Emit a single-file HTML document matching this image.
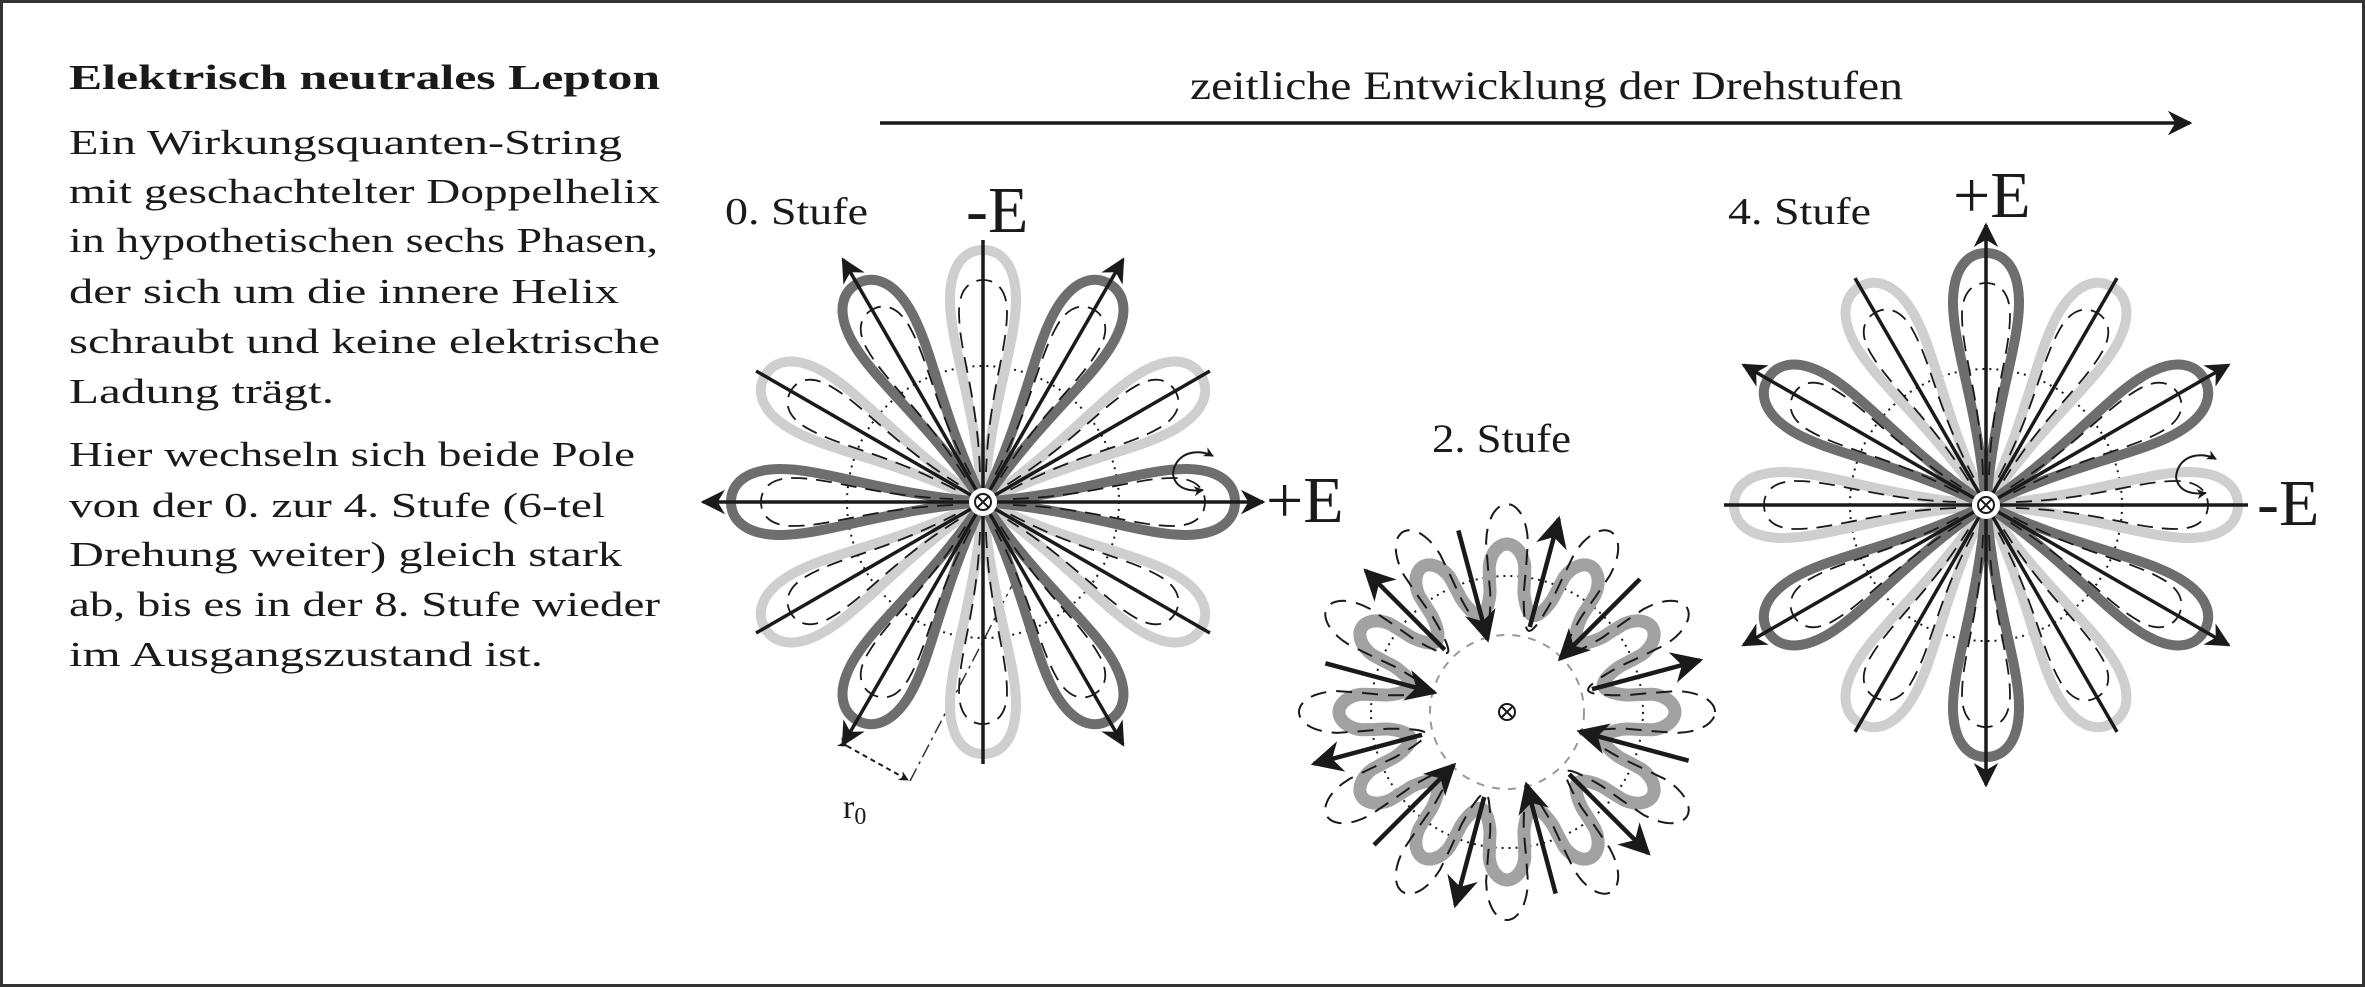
<!DOCTYPE html>
<html><head><meta charset="utf-8"><style>
html,body{margin:0;padding:0;background:#fff;}
svg{display:block;}
text{font-family:"Liberation Serif","DejaVu Serif",serif;fill:#1a1a1a;}
</style></head><body>
<svg id="fig" width="2365" height="987" viewBox="0 0 2365 987" xmlns="http://www.w3.org/2000/svg">
<defs>
<marker id="ah" viewBox="0 0 10 10" refX="9" refY="5" markerWidth="7" markerHeight="7" markerUnits="strokeWidth" orient="auto"><path d="M0,0 L10,5 L0,10 L3,5 Z" fill="#1a1a1a"/></marker>
<marker id="ahs" viewBox="0 0 10 10" refX="9" refY="5" markerWidth="5" markerHeight="5" markerUnits="strokeWidth" orient="auto"><path d="M0,0 L10,5 L0,10 L3,5 Z" fill="#1a1a1a"/></marker>
</defs>
<rect x="1.5" y="1.5" width="2362" height="984" fill="#fff" stroke="#333" stroke-width="3"/>

<g>
<text x="69" y="89" font-size="35" font-weight="bold" textLength="591" lengthAdjust="spacingAndGlyphs">Elektrisch neutrales Lepton</text>
<g font-size="35">
<text x="69" y="154" textLength="553" lengthAdjust="spacingAndGlyphs">Ein Wirkungsquanten-String</text>
<text x="69" y="203" textLength="591" lengthAdjust="spacingAndGlyphs">mit geschachtelter Doppelhelix</text>
<text x="69" y="252" textLength="589" lengthAdjust="spacingAndGlyphs">in hypothetischen sechs Phasen,</text>
<text x="69" y="303" textLength="550" lengthAdjust="spacingAndGlyphs">der sich um die innere Helix</text>
<text x="69" y="353" textLength="591" lengthAdjust="spacingAndGlyphs">schraubt und keine elektrische</text>
<text x="69" y="403" textLength="265" lengthAdjust="spacingAndGlyphs">Ladung trägt.</text>
<text x="69" y="466" textLength="566" lengthAdjust="spacingAndGlyphs">Hier wechseln sich beide Pole</text>
<text x="69" y="517" textLength="536" lengthAdjust="spacingAndGlyphs">von der 0. zur 4. Stufe (6-tel</text>
<text x="69" y="566" textLength="553" lengthAdjust="spacingAndGlyphs">Drehung weiter) gleich stark</text>
<text x="69" y="616" textLength="591" lengthAdjust="spacingAndGlyphs">ab, bis es in der 8. Stufe wieder</text>
<text x="69" y="666" textLength="474" lengthAdjust="spacingAndGlyphs">im Ausgangszustand ist.</text>
</g></g>

<text x="1190" y="99" font-size="40" textLength="713" lengthAdjust="spacingAndGlyphs">zeitliche Entwicklung der Drehstufen</text>
<line x1="880" y1="123" x2="2190" y2="123" stroke="#1a1a1a" stroke-width="3.5" marker-end="url(#ah)"/>

<text x="725" y="224" font-size="38" textLength="143" lengthAdjust="spacingAndGlyphs">0. Stufe</text>
<text x="966" y="232" font-size="66">-E</text>
<text x="1266" y="522" font-size="66">+E</text>
<text x="843" y="818" font-size="34">r<tspan font-size="24" dy="6">0</tspan></text>
<line x1="847" y1="746" x2="908" y2="780" stroke="#1a1a1a" stroke-width="2" stroke-dasharray="5 4" marker-start="url(#ahs)" marker-end="url(#ahs)"/>
<line x1="910" y1="781" x2="1018" y2="574" stroke="#333" stroke-width="1.5" stroke-dasharray="14 5 3 5"/>

<text x="1432" y="452" font-size="40" textLength="139" lengthAdjust="spacingAndGlyphs">2. Stufe</text>

<text x="1728" y="224" font-size="38" textLength="143" lengthAdjust="spacingAndGlyphs">4. Stufe</text>
<text x="1953" y="217" font-size="66">+E</text>
<text x="2257" y="525" font-size="66">-E</text>

<g id="layer"></g>
</svg>
<script>
// petal angles (degrees, counter-clockwise from +x)
const stage0Dark = [0, 60, 120, 180, 240, 300];
const stage0Light = [30, 90, 150, 210, 270, 330];
const stage4Dark = [30, 90, 150, 210, 270, 330];
const stage4Light = [0, 60, 120, 180, 240, 300];
const stage2OutArrows = [15, 75, 135, 195, 255, 315];
const stage2InArrows = [45, 105, 165, 225, 285, 345];
const stage2Lobes = 12;

const NS = 'http://www.w3.org/2000/svg';
const layer = document.getElementById('layer');
function mk(tag, attrs, parent) {
  const e = document.createElementNS(NS, tag);
  for (const k in attrs) e.setAttribute(k, attrs[k]);
  (parent || layer).appendChild(e);
  return e;
}
const PETAL = 'M0 0 C100 -8 160 -34 205 -33 C240 -32 252 -16 252 0 C252 16 240 32 205 33 C160 34 100 8 0 0Z';
const INNER = 'M30 -3 C110 -6 150 -24 190 -24 C214 -24 222 -12 222 0 C222 12 214 24 190 24 C150 24 110 6 30 3';

function flower(cx, cy, dark, light, name) {
  const g = mk('g', {});
  
  
  const c = mk('circle', {cx: cx, cy: cy, r: 136, fill: 'none', stroke: '#1a1a1a', 'stroke-width': 2, 'stroke-dasharray': '2 5'}, g);
  
  
  const draw = (angles, color, kind) => {
    angles.forEach(a => {
      const p = mk('path', {d: PETAL, fill: 'none', stroke: color, 'stroke-width': 10, transform: `translate(${cx} ${cy}) rotate(${-a})`}, g);
      
      
      const q = mk('path', {d: INNER, fill: 'none', stroke: '#1a1a1a', 'stroke-width': 1.8, 'stroke-dasharray': '16 9', transform: `translate(${cx} ${cy}) rotate(${-a})`}, g);
      
      
    });
  };
  draw(light, '#cfcfcf', 'light');
  draw(dark, '#6e6e6e', 'dark');
  light.forEach(a => {
    const r = a * Math.PI / 180;
    const l = mk('line', {x1: cx, y1: cy, x2: cx + 262 * Math.cos(r), y2: cy - 262 * Math.sin(r), stroke: '#1a1a1a', 'stroke-width': 3.5}, g);
    
    
  });
  dark.forEach(a => {
    const r = a * Math.PI / 180;
    const l = mk('line', {x1: cx + 12 * Math.cos(r), y1: cy - 12 * Math.sin(r), x2: cx + 280 * Math.cos(r), y2: cy - 280 * Math.sin(r), stroke: '#1a1a1a', 'stroke-width': 3.5, 'marker-end': 'url(#ah)'}, g);
    
    
  });
  const rot = mk('path', {d: `M${cx + 190} ${cy - 28} C${cx + 192} ${cy - 50} ${cx + 215} ${cy - 54} ${cx + 230} ${cy - 46}`, fill: 'none', stroke: '#1a1a1a', 'stroke-width': 2, 'marker-end': 'url(#ahs)'}, g);
  
  
  const rot2 = mk('path', {d: `M${cx + 190} ${cy - 28} C${cx + 192} ${cy - 14} ${cx + 205} ${cy - 10} ${cx + 220} ${cy - 12}`, fill: 'none', stroke: '#1a1a1a', 'stroke-width': 2, 'marker-end': 'url(#ahs)'}, g);
  
  
  center(cx, cy, g);
}
function center(cx, cy, g) {
  const b = mk('circle', {cx: cx, cy: cy, r: 14, fill: '#fff'}, g);
  
  
  const o = mk('circle', {cx: cx, cy: cy, r: 8, fill: 'none', stroke: '#1a1a1a', 'stroke-width': 2}, g);
  
  
  const x = mk('path', {d: `M${cx - 5.5} ${cy - 5.5}L${cx + 5.5} ${cy + 5.5}M${cx + 5.5} ${cy - 5.5}L${cx - 5.5} ${cy + 5.5}`, stroke: '#1a1a1a', 'stroke-width': 2}, g);
  
  
}
flower(983, 502, stage0Dark, stage0Light, 'stage-0-flower');
flower(1986, 505, stage4Dark, stage4Light, 'stage-4-flower');

// stage 2 ring
(function () {
  const cx = 1507, cy = 712;
  const g = mk('g', {});
  
  
  const ring = (base, amp, pw) => {
    let d = '';
    for (let i = 0; i <= 720; i++) {
      const t = i / 720 * 2 * Math.PI;
      const c = Math.cos(stage2Lobes * t);
      const f = Math.sign(c) * Math.pow(Math.abs(c), pw);
      const r = base + amp * f;
      d += (i ? 'L' : 'M') + (cx + r * Math.cos(t)).toFixed(1) + ' ' + (cy - r * Math.sin(t)).toFixed(1);
    }
    return d + 'Z';
  };
  const dc = mk('circle', {cx: cx, cy: cy, r: 136, fill: 'none', stroke: '#1a1a1a', 'stroke-width': 2, 'stroke-dasharray': '2 5'}, g);
  
  
  const ic = mk('circle', {cx: cx, cy: cy, r: 77, fill: 'none', stroke: '#999', 'stroke-width': 2, 'stroke-dasharray': '8 8'}, g);
  
  
  const gr = mk('path', {d: ring(134, 34, 0.45), fill: 'none', stroke: '#a2a2a2', 'stroke-width': 13}, g);
  
  
  const dr = mk('path', {d: ring(146, 62, 0.4), fill: 'none', stroke: '#1a1a1a', 'stroke-width': 2, 'stroke-dasharray': '16 10'}, g);
  
  
  stage2OutArrows.forEach(a => {
    const r = a * Math.PI / 180;
    const l = mk('line', {x1: cx + 88 * Math.cos(r), y1: cy - 88 * Math.sin(r), x2: cx + 200 * Math.cos(r), y2: cy - 200 * Math.sin(r), stroke: '#1a1a1a', 'stroke-width': 4.5, 'marker-end': 'url(#ah)'}, g);
    
    
  });
  stage2InArrows.forEach(a => {
    const r = a * Math.PI / 180;
    const l = mk('line', {x1: cx + 188 * Math.cos(r), y1: cy - 188 * Math.sin(r), x2: cx + 75 * Math.cos(r), y2: cy - 75 * Math.sin(r), stroke: '#1a1a1a', 'stroke-width': 4.5, 'marker-end': 'url(#ah)'}, g);
    
    
  });
  center(cx, cy, g);
})();
</script>
</body></html>
